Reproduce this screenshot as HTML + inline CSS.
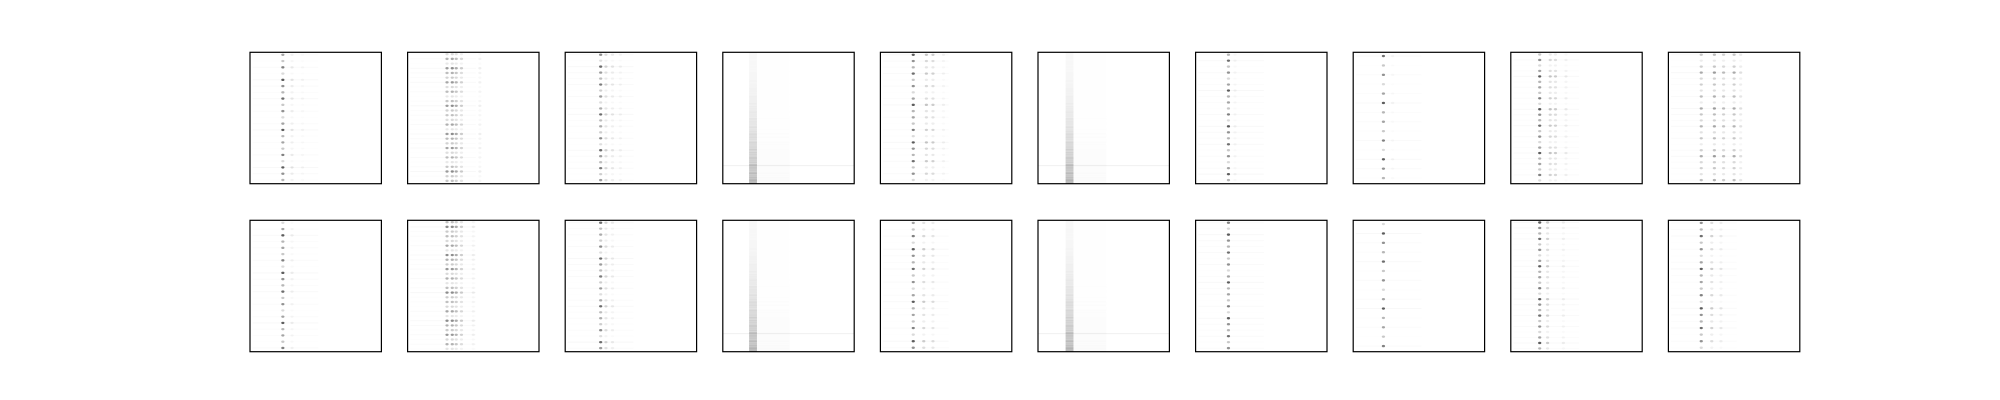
<!DOCTYPE html>
<html><head><meta charset="utf-8"><style>
html,body{margin:0;padding:0;background:#fff;}
svg{display:block;font-family:"Liberation Sans",sans-serif;}
</style></head><body>
<svg id="fig" width="2000" height="400" viewBox="0 0 2000 400" xmlns="http://www.w3.org/2000/svg"></svg>
<script>
// Each panel: harmonic column x-positions (fraction of width), column weights, row intensity pattern, noisy band
const colXs = [
 [0.25,0.32,0.4],[0.3,0.34,0.37,0.41,0.55],[0.27,0.31,0.36,0.42],[0.24],[0.25,0.35,0.4,0.48],
 [0.24],[0.25,0.3],[0.23,0.3],[0.22,0.3,0.34,0.42],[0.25,0.35,0.42,0.5,0.55],
 [0.25,0.32],[0.3,0.34,0.37,0.41,0.5],[0.27,0.31,0.36],[0.24],[0.25,0.33,0.4],
 [0.24,0.3],[0.25],[0.23],[0.22,0.28,0.4],[0.25,0.33,0.4]
];
const colWeights = [
 [1,0.15,0.06],[0.6,0.7,0.5,0.3,0.1],[0.9,0.25,0.15,0.08],[0.3],[1,0.35,0.3,0.08],
 [0.3],[1,0.08],[1,0.06],[1,0.35,0.3,0.12],[0.5,0.6,0.4,0.5,0.2],
 [1,0.1],[0.7,0.7,0.5,0.3,0.1],[0.9,0.25,0.12],[0.3],[1,0.3,0.2],
 [0.3,0.1],[1],[1],[1,0.3,0.1],[1,0.3,0.15]
];
const rowCounts = [21,28,22,0,21,0,22,14,24,22, 21,28,22,0,20,0,22,14,24,20];
const rowPattern = [0.5,0.3,0.7,0.2,0.9,0.6,0.4,0.8,0.3,0.6,0.2,0.5,0.9,0.4];
const bandX = [null,null,null,[0.2,0.26],null,[0.21,0.27],null,null,null,null,
               null,null,null,[0.2,0.26],null,[0.21,0.27],null,null,null,null];

const NS='http://www.w3.org/2000/svg';
const svg=document.getElementById('fig');
const L=250, T0=52.3, W=131.4, STEP=157.6, ROWSTEP=168;
function px(i,f){return L+(i%10)*STEP+f*W;}
function py(i,f){return T0+Math.floor(i/10)*ROWSTEP+f*W;}
function mk(tag,attrs){const e=document.createElementNS(NS,tag);for(const k in attrs)e.setAttribute(k,attrs[k]);return e;}

for(let i=0;i<20;i++){
  const g=mk('g',{});
  
  
  svg.appendChild(g);
  const b=bandX[i];
  if(b){
    const n=120;
    for(let r=0;r<n;r++){
      const f=r/n;
      const d=0.05+0.55*f*f*(0.5+0.5*rowPattern[r%rowPattern.length]);
      const s=mk('rect',{x:px(i,b[0]),y:py(i,f),width:(b[1]-b[0])*W,height:W/n+0.2,fill:'#000','fill-opacity':d*0.5});
      
      
      g.appendChild(s);
      const t=mk('rect',{x:px(i,b[1]),y:py(i,f),width:W*0.25,height:W/n,fill:'#000','fill-opacity':d*0.04});
      
      
      g.appendChild(t);
    }
    const ln=mk('rect',{x:px(i,0),y:py(i,0.86),width:W,height:0.8,fill:'#000','fill-opacity':0.08});
    
    
    g.appendChild(ln);
  }
  const n=rowCounts[i];
  for(let r=0;r<n;r++){
    const f=(r+0.4)/n;
    const inten=rowPattern[(r+i)%rowPattern.length];
    const streak=mk('rect',{x:px(i,0.02),y:py(i,f)-0.5,width:W*0.5,height:1,fill:'#000','fill-opacity':0.03*inten});
    
    
    g.appendChild(streak);
    colXs[i].forEach((cx,k)=>{
      const op=Math.min(0.8,0.7*inten*colWeights[i][k]);
      const e=mk('ellipse',{cx:px(i,cx),cy:py(i,f),rx:1.6,ry:1.2,fill:'#000','fill-opacity':op});
      
      
      g.appendChild(e);
    });
  }
  const fr=mk('rect',{x:px(i,0),y:py(i,0),width:W,height:W,fill:'none',stroke:'#000','stroke-width':1.2});
  
  
  g.appendChild(fr);
}
</script>
</body></html>
